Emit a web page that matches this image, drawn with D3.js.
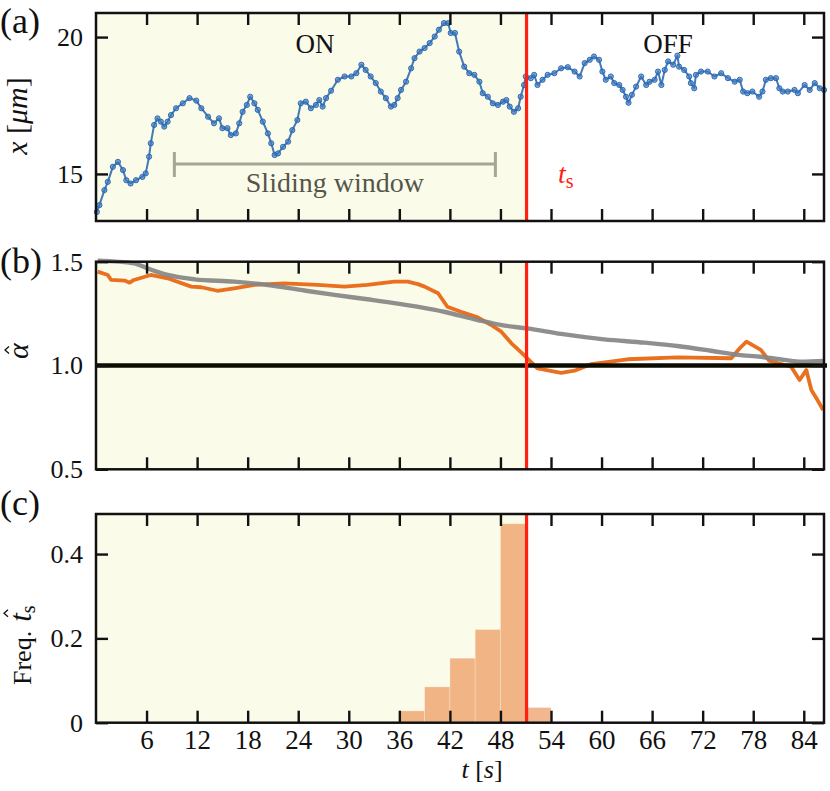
<!DOCTYPE html>
<html>
<head>
<meta charset="utf-8">
<script src="https://cdn.jsdelivr.net/npm/d3@7"></script>
<style>
  body { margin: 0; background: #fff; }
  svg { display: block; }
  text { font-family: "Liberation Serif", "Times New Roman", serif; fill: #111; }
  .tick text { font-size: 26px; }
</style>
</head>
<body>
<div id="chart"></div>
<script>
// (a) particle position x [um] against time t [s]
const traceT = [0.1, 0.4, 1.0, 1.4, 2.0, 2.6, 3.2, 3.6, 4.1, 4.75, 5.5, 5.9, 6.3, 6.5, 6.9, 7.3, 7.7, 8.1, 8.5, 8.9,
  9.5, 10.3, 11.1, 11.9, 12.5, 13.3, 14.0, 14.6, 15.0, 15.6, 16.0, 16.6, 17.0, 17.4, 17.9, 18.3, 18.8, 19.2, 19.8, 20.4,
  20.8, 21.2, 21.6, 22.2, 22.8, 23.3, 23.9, 24.3, 24.9, 25.5, 26.1, 26.5, 26.9, 27.3, 27.9, 28.7, 29.5, 30.3, 30.9, 31.5,
  32.0, 32.6, 33.2, 33.8, 34.4, 35.0, 35.4, 35.8, 36.2, 36.8, 37.4, 37.8, 38.4, 39.0, 39.6, 40.2, 40.7, 41.3, 41.8, 42.1,
  42.6, 43.1, 43.7, 44.3, 44.9, 45.5, 45.9, 46.5, 47.1, 47.7, 48.3, 48.7, 49.1, 49.6, 50.1, 50.4, 50.8, 51.0, 51.6, 52.0,
  52.4, 53.0, 53.6, 54.4, 55.2, 56.0, 56.8, 57.4, 58.0, 58.6, 59.1, 59.7, 60.1, 60.5, 61.1, 61.5, 62.1, 62.5, 62.9, 63.2,
  63.6, 64.1, 64.7, 65.3, 65.7, 66.3, 66.7, 67.1, 67.5, 67.9, 68.5, 69.0, 69.2, 69.8, 70.4, 70.6, 71.0, 71.2, 71.8, 72.6,
  73.4, 74.2, 75.0, 75.8, 76.4, 76.8, 77.3, 77.9, 78.7, 79.1, 79.5, 80.1, 80.7, 81.1, 81.5, 82.1, 82.9, 83.3, 84.1, 84.7,
  85.3, 85.9, 86.4];
const traceX = [13.61, 13.86, 14.41, 14.71, 15.26, 15.44, 15.14, 14.77, 14.65, 14.77, 14.89, 15.02, 15.63, 16.12, 16.79, 17.03, 16.91, 16.73, 16.91, 17.15,
  17.40, 17.58, 17.77, 17.68, 17.40, 17.09, 16.85, 17.03, 16.67, 16.67, 16.42, 16.48, 16.85, 17.27, 17.52, 17.82, 17.58, 17.34, 16.91, 16.48,
  16.12, 15.69, 15.75, 15.99, 16.18, 16.60, 16.97, 17.58, 17.64, 17.40, 17.52, 17.70, 17.46, 17.77, 18.04, 18.44, 18.56, 18.56, 18.68, 18.99,
  18.80, 18.56, 18.32, 18.01, 17.77, 17.46, 17.52, 17.77, 18.07, 18.37, 18.86, 19.23, 19.47, 19.60, 19.78, 20.02, 20.27, 20.51, 20.51, 20.15,
  20.15, 19.47, 18.92, 18.68, 18.62, 18.37, 17.95, 17.82, 17.58, 17.52, 17.64, 17.70, 17.46, 17.27, 17.40, 17.82, 18.25, 18.56, 18.50, 18.62,
  18.25, 18.44, 18.62, 18.68, 18.86, 18.90, 18.74, 18.56, 19.05, 19.17, 19.29, 19.17, 18.74, 18.44, 18.56, 18.32, 18.25, 18.07, 17.82, 17.60,
  17.89, 18.19, 18.56, 18.25, 18.37, 18.44, 18.74, 18.25, 18.80, 19.11, 18.99, 19.32, 18.92, 18.80, 18.56, 18.32, 18.13, 18.62, 18.74, 18.74,
  18.56, 18.68, 18.50, 18.37, 18.44, 18.01, 17.95, 18.01, 17.82, 18.01, 18.44, 18.50, 18.50, 18.13, 18.01, 18.01, 18.07, 17.95, 18.25, 18.07,
  18.32, 18.13, 18.07];

// (b) estimated alpha (orange) and reference curve (gray)
const alphaT = [0.2, 1.4, 1.8, 3.4, 4.0, 4.5, 6.5, 8.5, 11.3, 12.5, 14.4, 16.4, 18.8, 22.3, 26.3, 29.5, 32.2, 35.4, 37.0, 38.2,
  39.0, 40.6, 41.7, 43.3, 45.3, 46.9, 48.1, 49.3, 50.4, 51.4, 52.4, 55.2, 56.8, 58.8, 63.1, 69.0, 75.4, 76.4, 77.2, 78.9,
  79.9, 82.5, 83.5, 84.3, 84.9, 85.5, 86.3];
const alphaEst = [1.452, 1.436, 1.412, 1.409, 1.399, 1.412, 1.436, 1.420, 1.380, 1.377, 1.360, 1.372, 1.388, 1.396, 1.388, 1.380, 1.388, 1.404, 1.404, 1.392,
  1.380, 1.348, 1.283, 1.259, 1.232, 1.195, 1.163, 1.107, 1.066, 1.026, 0.986, 0.965, 0.975, 1.007, 1.030, 1.039, 1.035, 1.083, 1.115, 1.075,
  1.023, 0.994, 0.930, 0.978, 0.882, 0.842, 0.786];
const refT = [0.2, 4.5, 6.1, 8.5, 11.7, 16.4, 20.4, 24.3, 28.3, 32.2, 36.2, 38.6, 41.3, 45.3, 48.5, 51.2, 55.2, 60.3, 65.1, 69.0,
  73.0, 76.2, 78.9, 81.7, 83.7, 86.4];
const alphaRef = [1.505, 1.492, 1.468, 1.436, 1.415, 1.404, 1.388, 1.364, 1.340, 1.319, 1.296, 1.280, 1.259, 1.219, 1.192, 1.179, 1.152, 1.126, 1.110, 1.094,
  1.071, 1.051, 1.042, 1.027, 1.018, 1.022];

// (c) histogram of detected switching times
const binStart = [36, 39, 42, 45, 48, 51];
const binFreq = [0.028, 0.085, 0.153, 0.221, 0.472, 0.036];
const binWidth = 3;

const switchTime = 51.1;
const windowRange = [9.3, 47.4];
const xTicks = [6, 12, 18, 24, 30, 36, 42, 48, 54, 60, 66, 72, 78, 84];
const ticksA = [15, 20];
const ticksB = [0.5, 1.0, 1.5];
const ticksC = [0, 0.2, 0.4];

const settings = {
  width: 830,
  height: 791,
  left: 96,
  right: 824,
  tick: 12,
  shade: "#fbfbea",
  red: "#ff2010",
  blue: "#2562ad",
  orange: "#e8701f",
  gray: "#858585",
};

const svg = d3.select("#chart").append("svg")
  .attr("width", settings.width)
  .attr("height", settings.height);

const x = d3.scaleLinear().domain([0, 86.4]).range([settings.left, settings.right]);
const yA = d3.scaleLinear().domain([13.28, 20.88]).range([221, 13]);
const yB = d3.scaleLinear().domain([0.5, 1.5]).range([469.3, 261.7]);
const yC = d3.scaleLinear().domain([0, 0.495]).range([722.7, 514]);

function drawBackground(g, y) {
  const [bottom, top] = y.range();
  g.append("rect")
    .attr("x", x(0)).attr("y", top)
    .attr("width", x(switchTime) - x(0)).attr("height", bottom - top)
    .attr("fill", settings.shade);
}

function drawSwitch(g, y) {
  const [bottom, top] = y.range();
  g.append("line")
    .attr("x1", x(switchTime)).attr("x2", x(switchTime))
    .attr("y1", top).attr("y2", bottom)
    .attr("stroke", settings.red).attr("stroke-width", 3.2);
}

function drawAxes(g, y, yTicks, yFormat, showX) {
  const [bottom, top] = y.range();
  const t = settings.tick;

  const bottomAxis = g.append("g").attr("transform", `translate(0,${bottom})`)
    .call(d3.axisBottom(x).tickValues(xTicks).tickSizeInner(-t).tickSizeOuter(0).tickPadding(7)
      .tickFormat(showX ? d3.format("d") : ""));
  bottomAxis.selectAll("text").style("font-size", "27px");
  g.append("g").attr("transform", `translate(0,${top})`)
    .call(d3.axisTop(x).tickValues(xTicks).tickSizeInner(-t).tickSizeOuter(0).tickFormat(""));
  g.append("g").attr("transform", `translate(${settings.left},0)`)
    .call(d3.axisLeft(y).tickValues(yTicks).tickSizeInner(-t).tickSizeOuter(0).tickPadding(13)
      .tickFormat(yFormat));
  g.append("g").attr("transform", `translate(${settings.right},0)`)
    .call(d3.axisRight(y).tickValues(yTicks).tickSizeInner(-t).tickSizeOuter(0).tickFormat(""));

  g.selectAll(".domain").remove();
  g.selectAll(".tick line").attr("stroke", "#111").attr("stroke-width", 2.4);

  g.append("rect")
    .attr("x", settings.left).attr("y", top)
    .attr("width", settings.right - settings.left).attr("height", bottom - top)
    .attr("fill", "none").attr("stroke", "#111").attr("stroke-width", 2.5);
}

// small circumflex accent for the hatted symbols, drawn in the label's own frame
function drawHat(g, cx, yTop) {
  g.append("path")
    .attr("d", d3.line()([[cx - 3.5, yTop + 4], [cx, yTop], [cx + 3.5, yTop + 4]]))
    .attr("fill", "none").attr("stroke", "#111").attr("stroke-width", 1.3);
}

// ---- panel (a)
const gA = svg.append("g");
drawBackground(gA, yA);

const traceLine = d3.line().x((d, i) => x(traceT[i])).y(d => yA(d));
gA.append("path")
  .datum(traceX)
  .attr("d", traceLine)
  .attr("fill", "none").attr("stroke", settings.blue).attr("stroke-width", 2)
  .attr("stroke-opacity", 0.85).attr("stroke-linejoin", "round");
gA.selectAll("circle.pt")
  .data(traceX)
  .join("circle")
  .attr("class", "pt")
  .attr("cx", (d, i) => x(traceT[i]))
  .attr("cy", d => yA(d))
  .attr("r", 2.6)
  .attr("fill", "#3b7bc0").attr("fill-opacity", 0.65)
  .attr("stroke", settings.blue).attr("stroke-width", 0.9);

// sliding window bracket
const winY = 164;
const bracket = gA.append("g").attr("stroke", "#a6a696").attr("stroke-width", 3).attr("fill", "none");
bracket.append("line").attr("x1", x(windowRange[0])).attr("x2", x(windowRange[1])).attr("y1", winY).attr("y2", winY);
windowRange.forEach(w => {
  bracket.append("line").attr("x1", x(w)).attr("x2", x(w)).attr("y1", winY - 12).attr("y2", winY + 13);
});
gA.append("text")
  .attr("x", (x(windowRange[0]) + x(windowRange[1])) / 2).attr("y", 192)
  .attr("text-anchor", "middle").attr("font-size", 28)
  .style("fill", "#55554a")
  .text("Sliding window");

gA.append("text").attr("x", 315).attr("y", 53).attr("text-anchor", "middle").attr("font-size", 27).text("ON");
gA.append("text").attr("x", 668).attr("y", 53).attr("text-anchor", "middle").attr("font-size", 27).text("OFF");

const tsLabel = gA.append("text").attr("x", 558).attr("y", 183).attr("font-size", 28).style("fill", settings.red);
tsLabel.append("tspan").attr("font-style", "italic").style("fill", settings.red).text("t");
tsLabel.append("tspan").attr("font-size", 20).attr("dy", 5).style("fill", settings.red).text("s");

drawSwitch(gA, yA);
drawAxes(gA, yA, ticksA, d3.format("d"), false);

// ---- panel (b)
const gB = svg.append("g");
drawBackground(gB, yB);

gB.append("path")
  .datum(alphaEst)
  .attr("d", d3.line().x((d, i) => x(alphaT[i])).y(d => yB(d)))
  .attr("fill", "none").attr("stroke", settings.orange).attr("stroke-width", 3.8)
  .attr("stroke-linejoin", "round");
gB.append("path")
  .datum(alphaRef)
  .attr("d", d3.line().curve(d3.curveMonotoneX).x((d, i) => x(refT[i])).y(d => yB(d)))
  .attr("fill", "none").attr("stroke", settings.gray).attr("stroke-width", 4.4).attr("stroke-opacity", 0.92);
gB.append("line")
  .attr("x1", settings.left).attr("x2", settings.right + 3)
  .attr("y1", yB(1)).attr("y2", yB(1))
  .attr("stroke", "#0b0b00").attr("stroke-width", 4.4);

drawSwitch(gB, yB);
drawAxes(gB, yB, ticksB, d3.format(".1f"), false);

// ---- panel (c)
const gC = svg.append("g");
drawBackground(gC, yC);

gC.selectAll("rect.bar")
  .data(binFreq)
  .join("rect")
  .attr("class", "bar")
  .attr("x", (d, i) => x(binStart[i]))
  .attr("width", (d, i) => x(binStart[i] + binWidth) - x(binStart[i]))
  .attr("y", d => yC(d))
  .attr("height", d => yC(0) - yC(d))
  .attr("fill", settings.orange).attr("fill-opacity", 0.5)
  .attr("stroke", "#fff").attr("stroke-opacity", 0.35).attr("stroke-width", 0.8);

drawSwitch(gC, yC);
drawAxes(gC, yC, ticksC, d => d === 0 ? "0" : d3.format(".1f")(d), true);

// ---- axis titles and panel letters
const xTitle = svg.append("text").attr("x", 482).attr("y", 778).attr("text-anchor", "middle").attr("font-size", 26);
xTitle.append("tspan").attr("font-style", "italic").text("t");
xTitle.append("tspan").text(" [");
xTitle.append("tspan").attr("font-style", "italic").text("s");
xTitle.append("tspan").text("]");

const yTitleA = svg.append("text")
  .attr("transform", "translate(27,116) rotate(-90)")
  .attr("text-anchor", "middle").attr("font-size", 30);
yTitleA.append("tspan").attr("font-style", "italic").text("x");
yTitleA.append("tspan").text(" [");
yTitleA.append("tspan").attr("font-style", "italic").text("μm");
yTitleA.append("tspan").text("]");

const alphaTitle = svg.append("g").attr("transform", "translate(28,351) rotate(-90)");
alphaTitle.append("text").attr("text-anchor", "middle").attr("font-size", 30).attr("font-style", "italic").text("α");
drawHat(alphaTitle, 1, -23);

const yTitleC = svg.append("g").attr("transform", "translate(31,636) rotate(-90)");
const freqText = yTitleC.append("text").attr("x", -49).attr("font-size", 26);
freqText.append("tspan").text("Freq.");
freqText.append("tspan").attr("dx", 9).attr("font-style", "italic").attr("font-size", 31).text("t");
freqText.append("tspan").attr("font-size", 20).attr("dy", 4).text("s");

[["(a)", 33], ["(b)", 273], ["(c)", 515]].forEach(([label, yPos]) => {
  svg.append("text").attr("x", 0).attr("y", yPos).attr("font-size", 36).text(label);
});

// hat over the t of the Freq. label, placed from the rendered glyph box
const tBox = freqText.selectAll("tspan").nodes()[1].getBBox();
drawHat(yTitleC, tBox.x + tBox.width * 0.75 + 1, -27);
</script>
</body>
</html>
